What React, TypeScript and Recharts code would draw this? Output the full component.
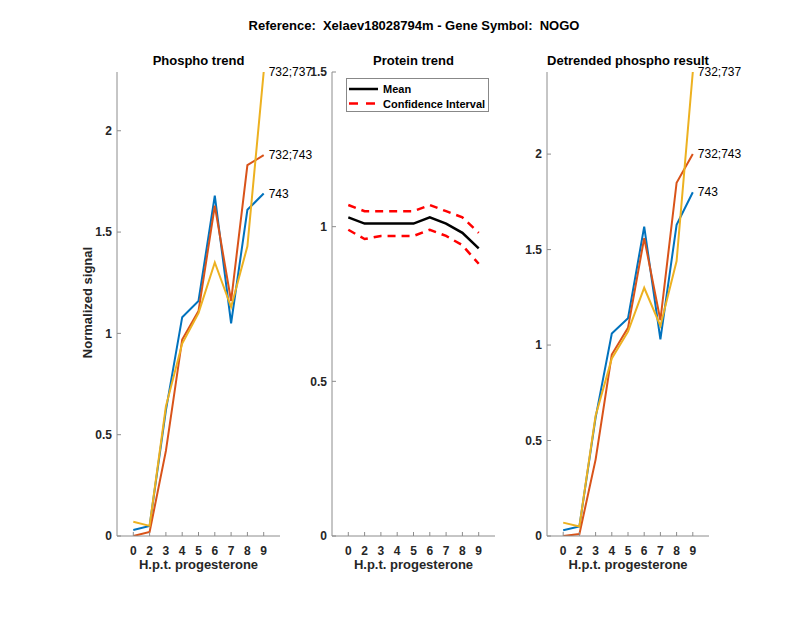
import React from "react";
import { LineChart, Line, XAxis, YAxis } from "recharts";

// hours post progesterone (tick labels) and the x slot each one sits on
const hours = ["0", "2", "3", "4", "5", "6", "7", "8", "9"];
const slots = [1, 2, 3, 4, 5, 6, 7, 8, 9];
const siteNames = ["743", "732;743", "732;737"];

const phospho743 = [0.03, 0.05, 0.62, 1.08, 1.16, 1.68, 1.05, 1.61, 1.69];
const phospho732_743 = [0.0, 0.02, 0.42, 0.97, 1.11, 1.63, 1.16, 1.83, 1.88];
const phospho732_737 = [0.07, 0.05, 0.64, 0.95, 1.1, 1.35, 1.13, 1.43, 2.29];

const proteinMean = [1.03, 1.01, 1.01, 1.01, 1.01, 1.03, 1.01, 0.98, 0.93];
const proteinUpper = [1.07, 1.05, 1.05, 1.05, 1.05, 1.07, 1.05, 1.03, 0.98];
const proteinLower = [0.99, 0.96, 0.97, 0.97, 0.97, 0.99, 0.97, 0.94, 0.88];

const detrended743 = [0.03, 0.05, 0.62, 1.06, 1.14, 1.62, 1.03, 1.63, 1.8];
const detrended732_743 = [0.0, 0.01, 0.4, 0.95, 1.09, 1.56, 1.13, 1.85, 2.0];
const detrended732_737 = [0.07, 0.05, 0.63, 0.93, 1.07, 1.3, 1.1, 1.44, 2.43];

const phosphoTicks = [0, 0.5, 1, 1.5, 2];
const proteinTicks = [0, 0.5, 1, 1.5];

const FONT = "'Liberation Sans', Arial, Helvetica, sans-serif";
const BLUE = "#0072BD";
const ORANGE = "#D95319";
const YELLOW = "#EDB120";
const AXIS = "#8c8c8c";

const TOP = 72;
const BOTTOM = 536;

const phosphoRows = slots.map((x, i) => ({
  x,
  a: phospho743[i],
  b: phospho732_743[i],
  c: phospho732_737[i],
}));
const proteinRows = slots.map((x, i) => ({
  x,
  mean: proteinMean[i],
  hi: proteinUpper[i],
  lo: proteinLower[i],
}));
const detrendedRows = slots.map((x, i) => ({
  x,
  a: detrended743[i],
  b: detrended732_743[i],
  c: detrended732_737[i],
}));

const tickStyle = { fontSize: 12, fontWeight: "bold", fill: "#262626", fontFamily: FONT };

function endLabel(name: string) {
  return (p: any) =>
    p.index === slots.length - 1 ? (
      <text x={p.x + 5} y={p.y + 4} fontSize={12} fontFamily={FONT} fill="#000">
        {name}
      </text>
    ) : (
      <g />
    );
}

function Panel(props: {
  left: number;
  right: number;
  title: string;
  children: React.ReactNode;
  data: any[];
  yMax: number;
  yTicks: number[];
}) {
  const plotW = props.right - props.left;
  return (
    <>
      <div
        style={{
          position: "absolute",
          left: props.left - 60,
          top: 40,
        }}
      >
        <LineChart
          width={plotW + 130}
          height={BOTTOM - 40 + 50}
          data={props.data}
          margin={{ top: TOP - 40, right: 70, bottom: 20, left: 0 }}
        >
          <XAxis
            dataKey="x"
            type="number"
            domain={[0, 10]}
            ticks={slots}
            tickFormatter={(v: number) => hours[v - 1]}
            height={30}
            tickSize={-4}
            tickMargin={14}
            tick={tickStyle}
            stroke={AXIS}
            interval={0}
          />
          <YAxis
            type="number"
            domain={[0, props.yMax]}
            allowDataOverflow
            ticks={props.yTicks}
            width={60}
            tickSize={-4}
            tickMargin={9}
            tick={tickStyle}
            stroke={AXIS}
            interval={0}
          />
          {props.children}
        </LineChart>
      </div>
      <div
        style={{
          position: "absolute",
          left: props.left - 50,
          width: plotW + 100,
          top: 53,
          textAlign: "center",
          fontFamily: FONT,
          fontWeight: "bold",
          fontSize: 13,
          color: "#000",
        }}
      >
        {props.title}
      </div>
      <div
        style={{
          position: "absolute",
          left: props.left - 50,
          width: plotW + 100,
          top: 557,
          textAlign: "center",
          fontFamily: FONT,
          fontWeight: "bold",
          fontSize: 13,
          color: "#262626",
        }}
      >
        H.p.t. progesterone
      </div>
    </>
  );
}

export default function App() {
  const leftMax = Math.max(...phospho743, ...phospho732_743, ...phospho732_737);
  const rightMax = Math.max(...detrended743, ...detrended732_743, ...detrended732_737);
  return (
    <div
      style={{
        position: "absolute",
        left: 0,
        top: 0,
        width: 800,
        height: 618,
        background: "#fff",
        overflow: "hidden",
      }}
    >
      <div
        style={{
          position: "absolute",
          left: 414 - 250,
          width: 500,
          top: 18,
          textAlign: "center",
          fontFamily: FONT,
          fontWeight: "bold",
          fontSize: 13,
          whiteSpace: "pre",
        }}
      >
        {"Reference:  Xelaev18028794m - Gene Symbol:  NOGO"}
      </div>

      <Panel left={117} right={280} title="Phospho trend" data={phosphoRows} yMax={leftMax} yTicks={phosphoTicks}>
        <Line dataKey="a" stroke={BLUE} strokeWidth={2} dot={false} isAnimationActive={false} label={endLabel(siteNames[0])} />
        <Line dataKey="b" stroke={ORANGE} strokeWidth={2} dot={false} isAnimationActive={false} label={endLabel(siteNames[1])} />
        <Line dataKey="c" stroke={YELLOW} strokeWidth={2} dot={false} isAnimationActive={false} label={endLabel(siteNames[2])} />
      </Panel>

      <Panel left={332} right={495} title="Protein trend" data={proteinRows} yMax={1.5} yTicks={proteinTicks}>
        <Line dataKey="hi" stroke="#ff0000" strokeWidth={2.5} strokeDasharray="8 6" dot={false} isAnimationActive={false} />
        <Line dataKey="lo" stroke="#ff0000" strokeWidth={2.5} strokeDasharray="8 6" dot={false} isAnimationActive={false} />
        <Line dataKey="mean" stroke="#000" strokeWidth={2.5} dot={false} isAnimationActive={false} />
      </Panel>

      <Panel left={547} right={709} title="Detrended phospho result" data={detrendedRows} yMax={rightMax} yTicks={phosphoTicks}>
        <Line dataKey="a" stroke={BLUE} strokeWidth={2} dot={false} isAnimationActive={false} label={endLabel(siteNames[0])} />
        <Line dataKey="b" stroke={ORANGE} strokeWidth={2} dot={false} isAnimationActive={false} label={endLabel(siteNames[1])} />
        <Line dataKey="c" stroke={YELLOW} strokeWidth={2} dot={false} isAnimationActive={false} label={endLabel(siteNames[2])} />
      </Panel>

      <div
        style={{
          position: "absolute",
          left: 87 - 100,
          top: 304 - 9,
          width: 200,
          textAlign: "center",
          transform: "rotate(-90deg)",
          fontFamily: FONT,
          fontWeight: "bold",
          fontSize: 13,
          color: "#262626",
        }}
      >
        Normalized signal
      </div>

      {/* legend of the protein panel */}
      <svg
        style={{ position: "absolute", left: 346, top: 78 }}
        width={144}
        height={35}
      >
        <rect x={0.5} y={0.5} width={142} height={33} fill="#fff" stroke="#888" />
        <line x1={3} x2={32} y1={11} y2={11} stroke="#000" strokeWidth={2.5} />
        <text x={37} y={15} fontFamily={FONT} fontWeight="bold" fontSize={11} fill="#000">
          Mean
        </text>
        <line x1={3} x2={32} y1={25.5} y2={25.5} stroke="#ff0000" strokeWidth={2.5} strokeDasharray="9 8" />
        <text x={37} y={29.5} fontFamily={FONT} fontWeight="bold" fontSize={11} fill="#000">
          Confidence Interval
        </text>
      </svg>
    </div>
  );
}
